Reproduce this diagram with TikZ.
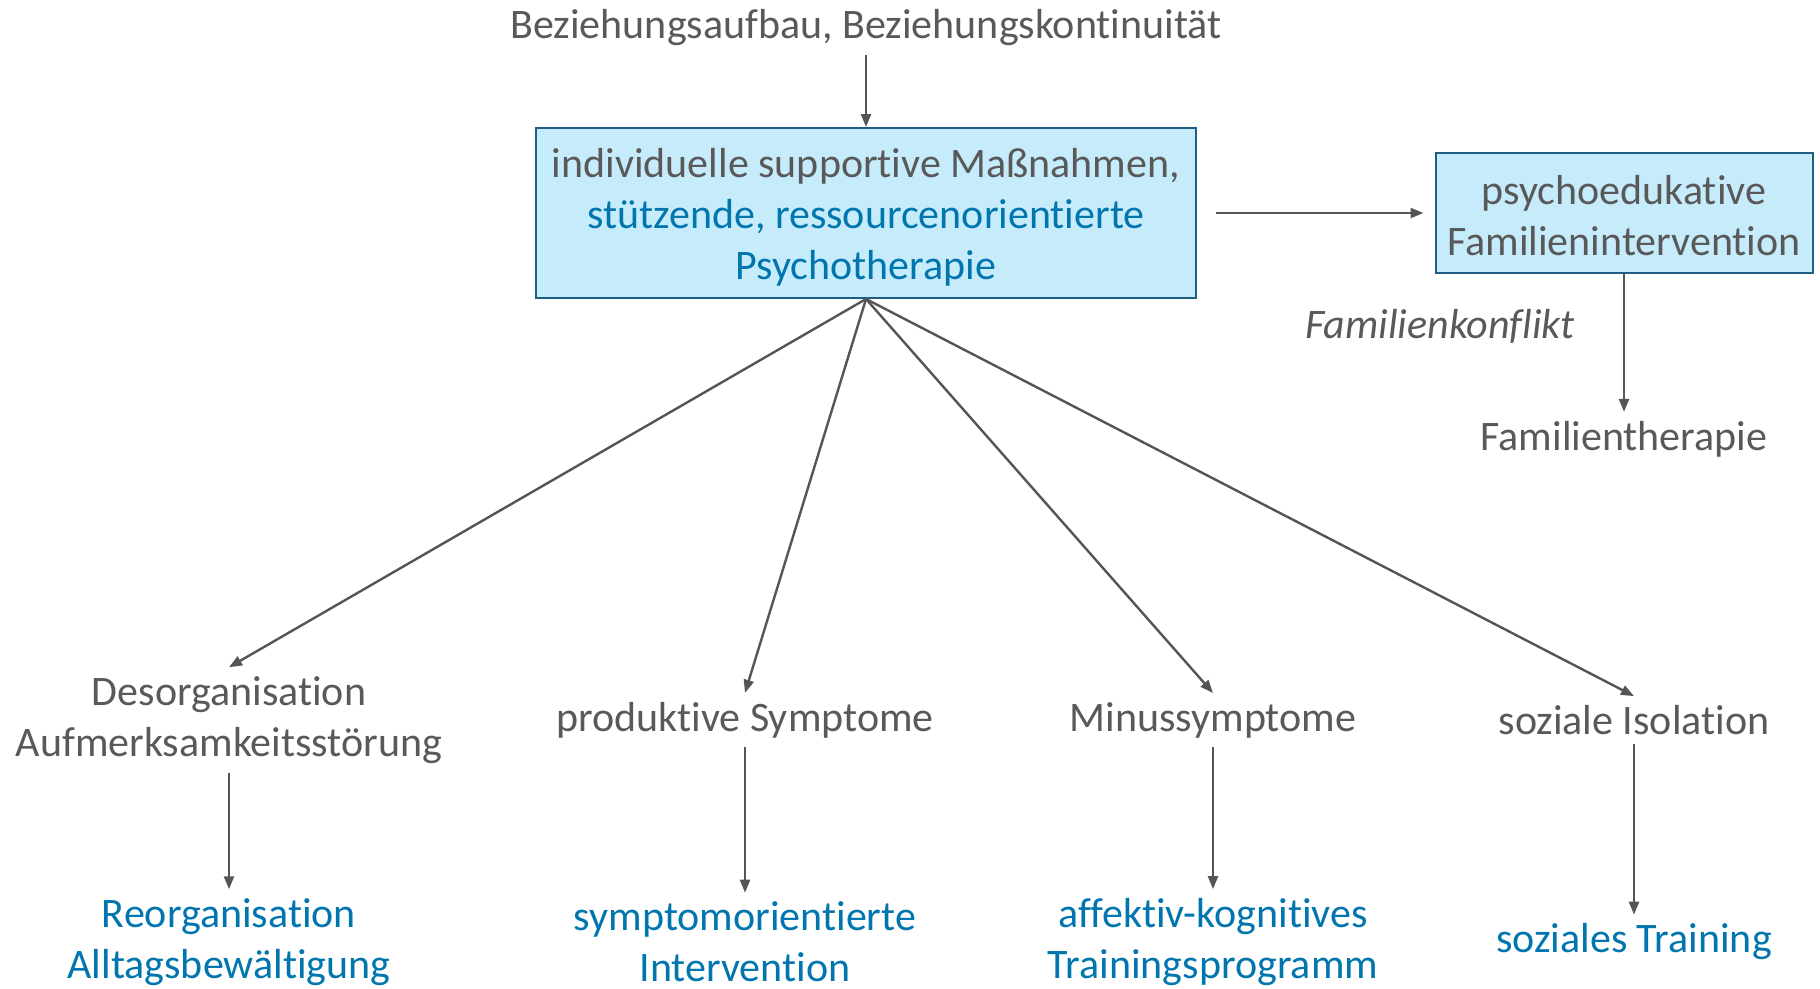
\documentclass[tikz,border=0pt]{standalone}
\usepackage{fontspec}
\setmainfont{Carlito}[Ligatures=NoCommon]
\usepackage{xcolor}
\usetikzlibrary{arrows.meta, positioning}

\definecolor{txtgray}{HTML}{595959}
\definecolor{txtblue}{HTML}{0075AE}
\definecolor{boxfill}{HTML}{C6ECFC}
\definecolor{boxdraw}{HTML}{1F5F86}
\definecolor{arrowgray}{HTML}{555555}

\begin{document}
\begin{tikzpicture}[
    x=1pt, y=-1pt,
    every node/.style = {
        font=\fontsize{42}{51}\selectfont,
        text=txtgray,
        align=center
    },
    lbl/.style = {inner sep=9pt},
    res/.style = {inner sep=9pt, text=txtblue},
    box/.style = {
        rectangle,
        fill=boxfill,
        draw=boxdraw,
        line width=2pt,
        inner sep=0pt
    },
    arrow/.style = {-{Triangle[length=13pt, width=10pt]}, line width=2.4pt, arrowgray}
]
\useasboundingbox (0,0) rectangle (1820,988);

%% Top and central boxes
\node[lbl] (top) at (866,28) {Beziehungsaufbau, Beziehungskontinuität};

\node[box, minimum width=660pt, minimum height=170pt] (main) at (866,213) {
    \rule{0pt}{38pt}individuelle supportive Maßnahmen,\\
    \textcolor{txtblue}{stützende, ressourcenorientierte}\\
    \textcolor{txtblue}{Psychotherapie}
};

\node[box, minimum width=377pt, minimum height=120pt] (fam) at (1624,213) {
    \rule{0pt}{34pt}psychoedukative\\
    Familienintervention
};

\node[lbl] (famther) at (1624,439) {Familientherapie};
\node[lbl, font=\fontsize{42}{51}\selectfont\itshape] (konflikt) at (1440,326) {Familienkonflikt};

%% Symptom nodes
\node[lbl] (deso) at (229,720) {Desorganisation\\Aufmerksamkeitsstörung};
\node[lbl] (prod) at (745,720) {produktive Symptome};
\node[lbl] (minus) at (1213,720) {Minussymptome};
\node[lbl] (iso) at (1634,720) {soziale Isolation};

%% Intervention nodes
\node[res] (reorg) at (229,942) {Reorganisation\\Alltagsbewältigung};
\node[res] (sympt) at (745,942) {symptomorientierte\\Intervention};
\node[res] (train) at (1213,942) {affektiv-kognitives\\Trainingsprogramm};
\node[res] (sozial) at (1634,942) {soziales Training};

%% Arrows
\draw[arrow] (top.south) -- (main.north);
\draw[arrow, shorten <=19pt, shorten >=11pt] (main.east) -- (fam.west);
\draw[arrow] (fam.south) -- (famther.north);

\draw[arrow] (main.south) -- (deso.north);
\draw[arrow] (main.south) -- (prod.north);
\draw[arrow] (main.south) -- (minus.north);
\draw[arrow] (main.south) -- (iso.north);

\draw[arrow] (deso.south) -- (reorg.north);
\draw[arrow] (prod.south) -- (sympt.north);
\draw[arrow] (minus.south) -- (train.north);
\draw[arrow] (iso.south) -- (sozial.north);

\end{tikzpicture}
\end{document}
